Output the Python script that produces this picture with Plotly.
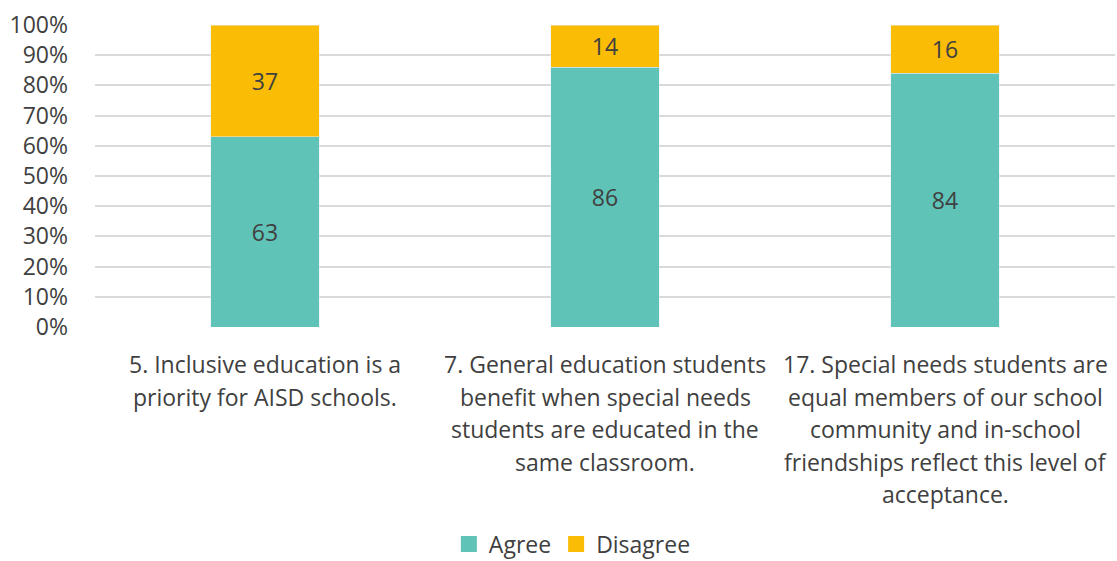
import plotly.graph_objects as go

categories = ["Q5", "Q7", "Q17"]
category_lines = [
    ["5. Inclusive education is a", "priority for AISD schools."],
    ["7. General education students", "benefit when special needs",
     "students are educated in the", "same classroom."],
    ["17. Special needs students are", "equal members of our school",
     "community and in-school", "friendships reflect this level of",
     "acceptance."],
]
agree = [63, 86, 84]
disagree = [37, 14, 16]
series_names = ["Agree", "Disagree"]
series_colors = ["#5FC3B8", "#FABC05"]

FONT = "Open Sans"
TXT = "#404040"
FS = 23

fig = go.Figure()
for name, vals, col in zip(series_names, [agree, disagree], series_colors):
    fig.add_trace(go.Bar(x=categories, y=vals, name=name, marker_color=col,
                         text=vals, textposition="inside", insidetextanchor="middle",
                         textangle=0, showlegend=False,
                         textfont=dict(size=FS, color=TXT, family=FONT)))
for name, col in zip(series_names, series_colors):
    fig.add_trace(go.Scatter(x=[None], y=[None], mode="markers", name=name,
                             marker=dict(symbol="square", size=16, color=col)))

for cat, lines in zip(categories, category_lines):
    for i, ln in enumerate(lines):
        fig.add_annotation(x=cat, y=0, xref="x", yref="y", text=ln, showarrow=False,
                           yanchor="middle", xanchor="center", yshift=-(37 + 32.6 * i),
                           font=dict(size=FS, color=TXT, family=FONT))

fig.update_layout(
    barmode="stack",
    bargap=0.68,
    width=1117, height=561,
    margin=dict(l=95, r=2, t=25, b=234, autoexpand=False),
    paper_bgcolor="white", plot_bgcolor="white",
    font=dict(family=FONT, size=FS, color=TXT),
    legend=dict(orientation="h", x=0.468, xanchor="center", yref="container",
                y=0.03, yanchor="middle",
                font=dict(size=FS, color=TXT, family=FONT), itemwidth=30,
                traceorder="normal", tracegroupgap=0),
    showlegend=True,
)
fig.update_xaxes(showticklabels=False, showline=False, showgrid=False, zeroline=False)
fig.update_yaxes(range=[0, 100], dtick=10, ticksuffix="%", showgrid=True,
                 gridcolor="#D9D9D9", gridwidth=1.5, zeroline=False, showline=False,
                 tickfont=dict(size=FS, color=TXT, family=FONT), ticklabelstandoff=26)

fig.write_html("out.html")
